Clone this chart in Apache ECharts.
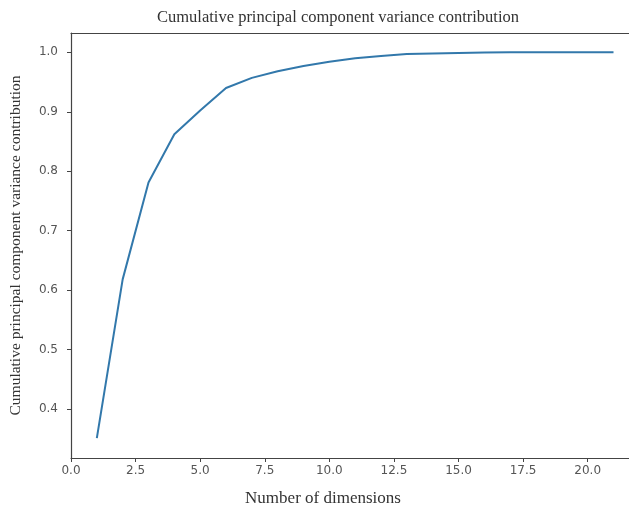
<!DOCTYPE html>
<html>
<head>
<meta charset="utf-8">
<script src="https://cdn.jsdelivr.net/npm/echarts@6/dist/echarts.min.js"></script>
<style>html,body{margin:0;padding:0;background:#fff;overflow:hidden}#c{width:629px;height:510px}</style>
</head>
<body>
<div id="c"></div>
<script>
const dimensions = [1,2,3,4,5,6,7,8,9,10,11,12,13,14,15,16,17,18,19,20,21];
const cumulativeVariance = [0.351,0.618,0.781,0.862,0.902,0.940,0.957,0.968,0.977,0.984,0.990,0.994,0.997,0.998,0.999,0.9995,1.0,1.0,1.0,1.0,1.0];
const xTicks = [0,2.5,5,7.5,10,12.5,15,17.5,20];
const yTicks = [0.4,0.5,0.6,0.7,0.8,0.9,1.0];

const chart = echarts.init(document.getElementById('c'), null, {renderer:'canvas'});
const sans = '"DejaVu Sans", sans-serif';
const serif = '"Liberation Serif", "DejaVu Serif", serif';
chart.setOption({
  animation:false,
  backgroundColor:'#fff',
  title:[{
    text:'Cumulative principal component variance contribution',
    left:333, top:4, textAlign:'center',
    textStyle:{fontFamily:serif, fontSize:16.5, fontWeight:'normal', color:'#333'}
  },{
    text:'Number of dimensions',
    left:318, top:485, textAlign:'center',
    textStyle:{fontFamily:serif, fontSize:17, fontWeight:'normal', color:'#333'}
  }],
  grid:{left:67, top:33, right:0, bottom:52, show:false},
  xAxis:[{
    type:'value', min:0, max:21.6,
    axisLine:{lineStyle:{color:'#444', width:1.2}},
    axisTick:{show:true, length:4, inside:false, customValues:xTicks, lineStyle:{color:'#444'}},
    axisLabel:{customValues:xTicks, fontFamily:sans, fontSize:12, color:'#555', margin:7,
      formatter:v=>v.toFixed(1)},
    splitLine:{show:false}
  },{
    type:'value', min:0, max:21.6, position:'top',
    axisLine:{show:true, lineStyle:{color:'#444', width:1.2}},
    axisTick:{show:false}, axisLabel:{show:false}, splitLine:{show:false}
  }],
  yAxis:{
    type:'value', min:0.3175, max:1.0325,
    name:'Cumulative principal component variance contribution', nameLocation:'middle', nameRotate:90, nameGap:47,
    nameTextStyle:{fontFamily:serif, fontSize:15.5, color:'#333'},
    axisLine:{show:true, lineStyle:{color:'#444', width:1.2}},
    axisTick:{show:true, length:4, inside:false, customValues:yTicks, lineStyle:{color:'#444'}},
    axisLabel:{customValues:yTicks, fontFamily:sans, fontSize:12, color:'#555', margin:13,
      formatter:v=>v.toFixed(1)},
    splitLine:{show:false}
  },
  series:[{
    type:'line',
    xAxisIndex:0,
    data:dimensions.map((d,i)=>[d,cumulativeVariance[i]]),
    showSymbol:false, symbol:'none',
    lineStyle:{color:'#3278ab', width:2},
    smooth:false
  }]
});
</script>
</body>
</html>
